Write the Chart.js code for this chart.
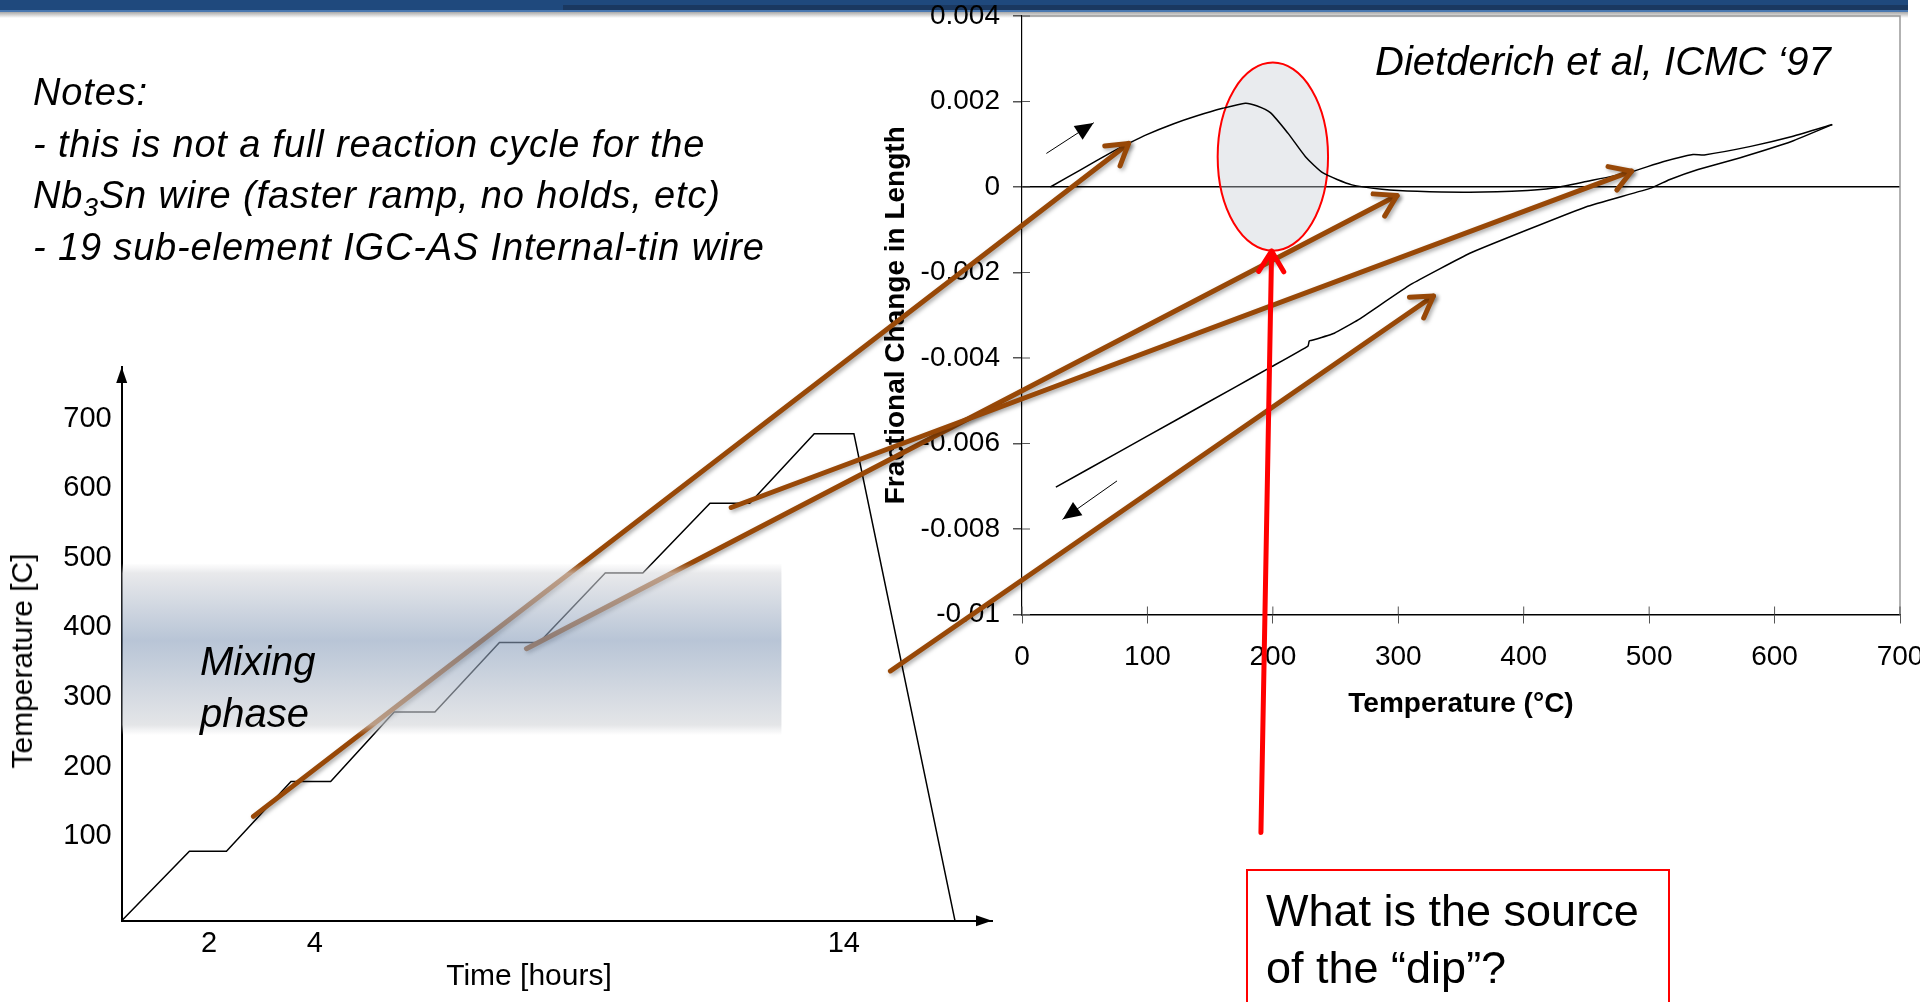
<!DOCTYPE html>
<html>
<head>
<meta charset="utf-8">
<script src="https://cdn.jsdelivr.net/npm/chart.js@4.4.0/dist/chart.umd.min.js"></script>
<style>
html, body { margin: 0; padding: 0; background: #fff; overflow: hidden; }
#page { position: relative; width: 1920px; height: 1002px; overflow: hidden; font-family: "Liberation Sans", Arial, sans-serif; color: #000; }
#page canvas, #page div { position: absolute; }
.bar { left: 0; top: 0; width: 1908px; height: 10px; background: #1f497d; }
.bar2 { left: 563px; top: 5px; width: 1345px; height: 5px; background: #1a3860; }
.bar3 { left: 0; top: 10px; width: 1908px; height: 2px; background: #4a78b0; }
.shade { left: 0; top: 12px; width: 1908px; height: 6px; background: linear-gradient(#a8a8a8, rgba(255,255,255,0)); }
#notes { left: 33px; top: 67px; font-size: 38px; line-height: 51.5px; font-style: italic; letter-spacing: 0.85px; white-space: nowrap; }
#notes sub { font-size: 70%; line-height: 0; vertical-align: -0.3em; }
#mix { left: 200px; top: 635px; font-size: 40px; line-height: 52px; font-style: italic; }
#cite { left: 1375px; top: 42px; font-size: 40px; line-height: 38px; font-style: italic; white-space: nowrap; }
#ytitle { left: 22px; top: 661px; font-size: 30px; white-space: nowrap; transform: translate(-50%, -50%) rotate(-90deg); }
#xtitle { left: 529px; top: 975px; font-size: 30px; white-space: nowrap; transform: translate(-50%, -50%); }
#ask { left: 1246px; top: 869px; width: 402px; height: 160px; border: 2px solid #ff0000; padding: 11px 0 0 18px; font-size: 45px; line-height: 57px; }
</style>
</head>
<body>
<div id="page">
  <div class="bar"></div><div class="bar2"></div><div class="bar3"></div><div class="shade"></div>

  <canvas id="profile" width="1010" height="672" style="left:0;top:330px;width:1010px;height:672px"></canvas>
  <canvas id="dil" width="1100" height="744" style="left:870px;top:-20px;width:1100px;height:744px"></canvas>
  <canvas id="overlay" width="1920" height="1002" style="left:0;top:0;width:1920px;height:1002px"></canvas>

  <div id="notes">Notes:<br>- this is not a full reaction cycle for the<br>Nb<sub>3</sub>Sn wire (faster ramp, no holds, etc)<br>- 19 sub-element IGC-AS Internal-tin wire</div>
  <div id="mix">Mixing<br>phase</div>
  <div id="cite">Dietderich et al, ICMC ‘97</div>
  <div id="ytitle">Temperature [C]</div>
  <div id="xtitle">Time [hours]</div>
  <div id="ask">What is the source<br>of the “dip”?</div>
</div>

<script>
Chart.defaults.font.family = '"Liberation Sans", Arial, sans-serif';

// heat treatment schedule (left)
var hoursT = [0.35, 1.63, 2.33, 3.55, 4.30, 5.50, 6.27, 7.49, 8.24, 9.49, 10.20, 11.47, 12.22, 13.44, 14.19, 16.10];
var tempC = [0, 100, 100, 200, 200, 300, 300, 400, 400, 500, 500, 600, 600, 700, 700, 0];
var timeTicks = [2, 4, 14];
var tempTicks = [100, 200, 300, 400, 500, 600, 700];
var mixT = [267, 514];
var mixEnd = 12.82;

// dilatometer trace (right)
var heatT = [22.6, 46, 73, 85, 99, 121, 139, 160, 178, 187, 198, 212, 226, 240, 263, 287, 315, 357, 403, 422, 450, 483, 511, 535, 544, 581, 614, 646];
var heatDL = [0, 0.00039, 0.00084, 0.00102, 0.00122, 0.00148, 0.00166, 0.00184, 0.00196, 0.0019, 0.00174, 0.00126, 0.00071, 0.00033, 0.00005, -0.00005, -0.0001, -0.00012, -0.00008, -0.00003, 0.00013, 0.00033, 0.00059, 0.00076, 0.00075, 0.00095, 0.00118, 0.00146];
var coolT = [646, 614, 572, 539, 516, 502, 450, 403, 357, 310, 268, 249, 232, 229, 228, 198, 170, 123, 76, 27];
var coolDL = [0.00146, 0.00107, 0.00068, 0.00041, 0.00017, -0.00002, -0.00046, -0.001, -0.00155, -0.00228, -0.00311, -0.00342, -0.00358, -0.0036, -0.00372, -0.00422, -0.00468, -0.00545, -0.00622, -0.00702];

// annotations
var dipCenter = [200, 0.00071];
var dipRadius = [44, 0.0022];
var dipArrow = [[190.5, -0.0151], [199, -0.0015]];
var heatDir = [[19.7, 0.00079], [57, 0.0015]];
var coolDir = [[75.5, -0.00688], [32.5, -0.00777]];
var linkFrom = [[2.84, 150], [8.0, 391], [11.87, 594], [14.88, 359]];
var linkTo = [[85, 0.00102], [299, -0.0002], [486, 0.00037], [328, -0.00255]];

function pts(xs, ys) {
    return xs.map(function (x, i) { return { x: x, y: ys[i] }; });
}

function arrow(ctx, a, b, color, w, head, filled) {
    var ang = Math.atan2(b[1] - a[1], b[0] - a[0]);
    ctx.strokeStyle = color;
    ctx.fillStyle = color;
    ctx.lineWidth = w;
    ctx.lineCap = 'round';
    ctx.lineJoin = 'round';
    ctx.beginPath();
    ctx.moveTo(a[0], a[1]);
    ctx.lineTo(b[0], b[1]);
    ctx.stroke();
    var spread = filled ? 0.42 : 0.55;
    ctx.beginPath();
    ctx.moveTo(b[0] - head * Math.cos(ang - spread), b[1] - head * Math.sin(ang - spread));
    ctx.lineTo(b[0], b[1]);
    ctx.lineTo(b[0] - head * Math.cos(ang + spread), b[1] - head * Math.sin(ang + spread));
    if (filled) { ctx.closePath(); ctx.fill(); } else { ctx.stroke(); }
}

var tickFont = { size: 29 };

var profile = new Chart(document.getElementById('profile'), {
    type: 'scatter',
    data: {
        datasets: [{ data: pts(hoursT, tempC), showLine: true, borderColor: '#000', borderWidth: 1.5, pointRadius: 0 }]
    },
    options: {
        responsive: false,
        animation: false,
        layout: { padding: { top: 37, right: 18, left: 0, bottom: 0 } },
        plugins: { legend: { display: false }, tooltip: { enabled: false } },
        scales: {
            x: {
                type: 'linear', min: 0.35, max: 16.8,
                afterBuildTicks: function (s) { s.ticks = timeTicks.map(function (v) { return { value: v }; }); },
                ticks: { font: tickFont, color: '#000', padding: 6, autoSkip: false, maxRotation: 0 },
                grid: { display: false, drawTicks: false },
                border: { color: '#000', width: 2 },
                afterFit: function (s) { s.height = 81.3; }
            },
            y: {
                min: 0, max: 796,
                afterBuildTicks: function (s) { s.ticks = tempTicks.map(function (v) { return { value: v }; }); },
                ticks: { font: tickFont, color: '#000', padding: 10, labelOffset: -15 },
                grid: { display: false, drawTicks: false },
                border: { color: '#000', width: 2 },
                afterFit: function (s) { s.width = 121.7; }
            }
        }
    },
    plugins: [{
        id: 'axisHeads',
        afterDraw: function (chart) {
            var c = chart.ctx, a = chart.chartArea;
            c.save();
            c.fillStyle = '#000';
            c.beginPath();
            c.moveTo(a.right, a.bottom); c.lineTo(a.right - 16, a.bottom - 5.5); c.lineTo(a.right - 16, a.bottom + 5.5);
            c.closePath(); c.fill();
            c.beginPath();
            c.moveTo(a.left, a.top); c.lineTo(a.left - 5.5, a.top + 16); c.lineTo(a.left + 5.5, a.top + 16);
            c.closePath(); c.fill();
            c.restore();
        }
    }]
});

var dil = new Chart(document.getElementById('dil'), {
    type: 'scatter',
    data: {
        datasets: [
            { data: pts(heatT, heatDL), showLine: true, borderColor: '#000', borderWidth: 1.5, pointRadius: 0, tension: 0.2 },
            { data: pts(coolT, coolDL), showLine: true, borderColor: '#000', borderWidth: 1.5, pointRadius: 0, tension: 0.1 }
        ]
    },
    options: {
        responsive: false,
        animation: false,
        layout: { padding: { top: 36, right: 70, left: 0, bottom: 0 } },
        plugins: { legend: { display: false }, tooltip: { enabled: false } },
        scales: {
            x: {
                type: 'linear', min: 0, max: 700,
                ticks: { stepSize: 100, font: { size: 28 }, color: '#000', padding: 17, autoSkip: false, maxRotation: 0 },
                grid: { drawOnChartArea: false, tickLength: 9, tickColor: '#555' },
                border: { color: '#000', width: 1.5 },
                title: { display: true, text: 'Temperature (°C)', color: '#000', font: { size: 28, weight: 'bold' }, padding: { top: 0, bottom: 3 } },
                afterFit: function (s) { s.height = 109.5; }
            },
            y: {
                min: -0.01, max: 0.004,
                ticks: {
                    stepSize: 0.002, font: { size: 28 }, color: '#000', padding: 13,
                    callback: function (v) { return String(Number(v.toFixed(3))); }
                },
                grid: {
                    color: function (ctx) { return ctx.tick && Math.abs(ctx.tick.value) < 1e-9 ? '#000' : 'rgba(0,0,0,0)'; },
                    lineWidth: 1.5, tickLength: 9, tickColor: '#555'
                },
                border: { color: '#000', width: 1.2 },
                title: { display: true, text: 'Fractional Change in Length', color: '#000', font: { size: 28, weight: 'bold' }, padding: { top: 9, bottom: 0 } },
                afterFit: function (s) { s.width = 152; }
            }
        }
    },
    plugins: [{
        id: 'dipMarks',
        beforeDatasetsDraw: function (chart) {
            var c = chart.ctx, sx = chart.scales.x, sy = chart.scales.y;
            var cx = sx.getPixelForValue(dipCenter[0]), cy = sy.getPixelForValue(dipCenter[1]);
            var rx = sx.getPixelForValue(dipCenter[0] + dipRadius[0]) - cx;
            var ry = cy - sy.getPixelForValue(dipCenter[1] + dipRadius[1]);
            c.save();
            c.beginPath();
            c.ellipse(cx, cy, rx, ry, 0, 0, Math.PI * 2);
            c.fillStyle = 'rgba(200,204,212,0.4)';
            c.fill();
            c.strokeStyle = '#ff0000';
            c.lineWidth = 2;
            c.stroke();
            c.restore();
        },
        afterDraw: function (chart) {
            var c = chart.ctx, a = chart.chartArea, sx = chart.scales.x, sy = chart.scales.y;
            c.save();
            // light frame on top and right
            c.strokeStyle = '#999';
            c.lineWidth = 1.5;
            c.beginPath();
            c.moveTo(a.left, a.top); c.lineTo(a.right, a.top); c.lineTo(a.right, a.bottom);
            c.stroke();
            // tick marks cross the axes
            c.strokeStyle = '#555';
            c.lineWidth = 1;
            sy.ticks.forEach(function (t) {
                var y = sy.getPixelForValue(t.value);
                c.beginPath(); c.moveTo(a.left, y); c.lineTo(a.left + 8, y); c.stroke();
            });
            sx.ticks.forEach(function (t) {
                var x = sx.getPixelForValue(t.value);
                c.beginPath(); c.moveTo(x, a.bottom); c.lineTo(x, a.bottom - 8); c.stroke();
            });
            // heating / cooling direction arrows
            [heatDir, coolDir].forEach(function (d) {
                arrow(c, [sx.getPixelForValue(d[0][0]), sy.getPixelForValue(d[0][1])],
                    [sx.getPixelForValue(d[1][0]), sy.getPixelForValue(d[1][1])], '#000', 1, 20, true);
            });
            c.restore();
        }
    }]
});

// links between the two plots, drawn on top
var profOff = [0, 330], dilOff = [870, -20];
function at(chart, off, p) {
    return [off[0] + chart.scales.x.getPixelForValue(p[0]), off[1] + chart.scales.y.getPixelForValue(p[1])];
}

var ov = document.getElementById('overlay').getContext('2d');
ov.save();
ov.shadowColor = 'rgba(0,0,0,0.35)';
ov.shadowBlur = 4;
ov.shadowOffsetX = 2;
ov.shadowOffsetY = 2;
for (var i = 0; i < linkFrom.length; i++) {
    arrow(ov, at(profile, profOff, linkFrom[i]), at(dil, dilOff, linkTo[i]), '#984807', 5, 24, false);
}
ov.restore();
arrow(ov, at(dil, dilOff, dipArrow[0]), at(dil, dilOff, dipArrow[1]), '#ff0000', 5, 24, false);

// mixing phase band
var b0 = at(profile, profOff, [profile.scales.x.min, mixT[1]]);
var b1 = at(profile, profOff, [mixEnd, mixT[0]]);
var g = ov.createLinearGradient(0, b0[1], 0, b1[1]);
g.addColorStop(0, 'rgba(217,218,222,0)');
g.addColorStop(0.06, 'rgba(217,218,222,0.6)');
g.addColorStop(0.45, 'rgba(137,158,187,0.6)');
g.addColorStop(0.94, 'rgba(210,212,216,0.6)');
g.addColorStop(1, 'rgba(210,212,216,0)');
ov.fillStyle = g;
ov.fillRect(b0[0], b0[1], b1[0] - b0[0], b1[1] - b0[1]);
</script>
</body>
</html>
